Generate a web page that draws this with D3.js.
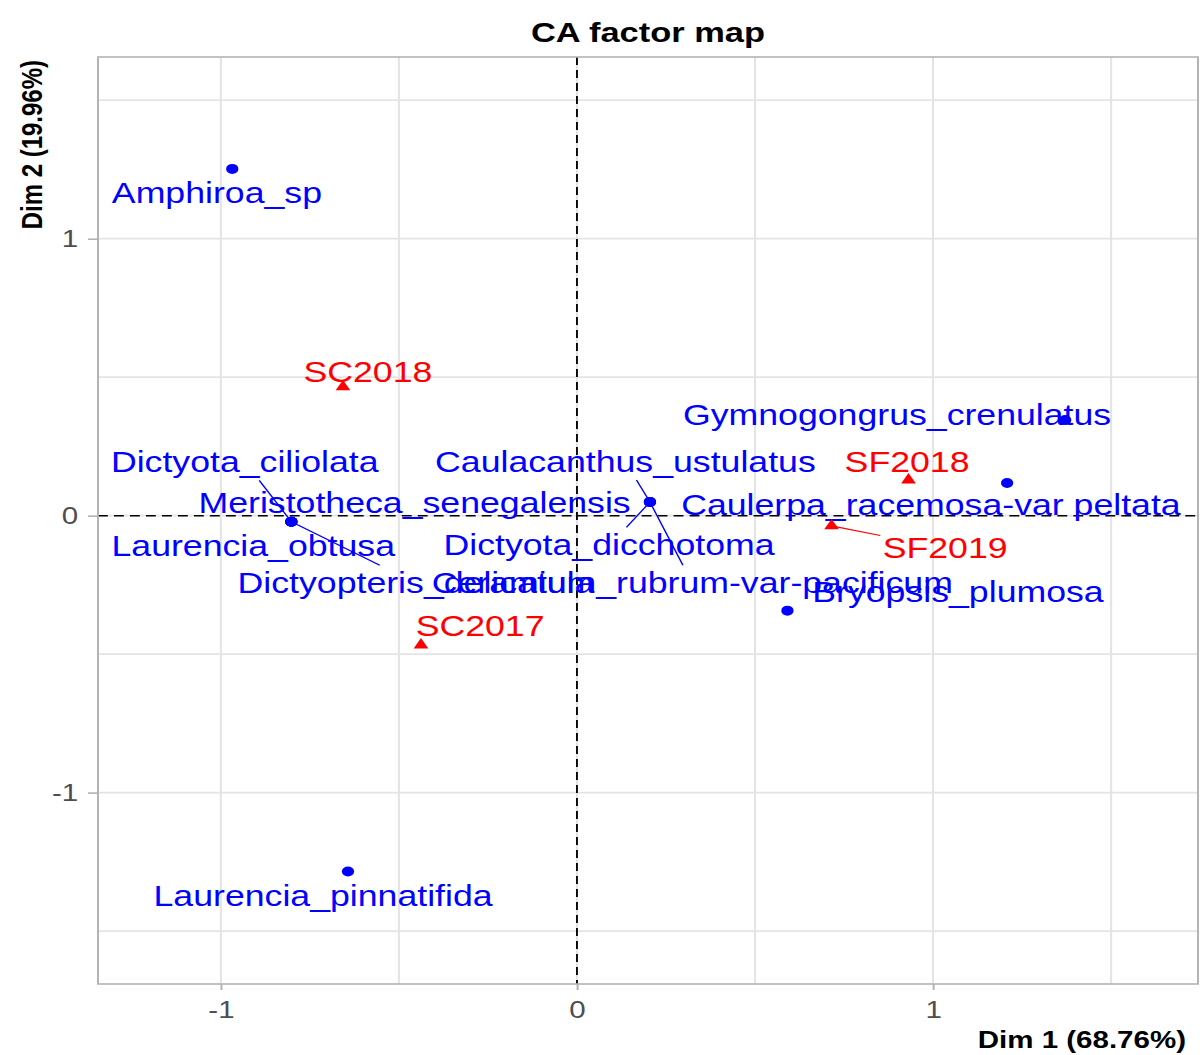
<!DOCTYPE html>
<html>
<head>
<meta charset="utf-8">
<script src="https://cdn.jsdelivr.net/npm/d3@7"></script>
<style>
  body { margin: 0; background: #fff; }
  svg { display: block; }
</style>
</head>
<body>
<div id="chart"></div>
<script>
// rows (species) of the CA
const rowNames = ["Amphiroa_sp", "Dictyota_ciliolata", "Meristotheca_senegalensis", "Laurencia_obtusa",
  "Dictyopteris_delicatula", "Caulacanthus_ustulatus", "Dictyota_dicchotoma", "Ceramium_rubrum-var-pacificum",
  "Gymnogongrus_crenulatus", "Caulerpa_racemosa-var peltata", "Bryopsis_plumosa", "Laurencia_pinnatifida"];
const rowDim1 = [-0.968, -0.802, -0.802, -0.802, -0.802, 0.205, 0.205, 0.205, 1.371, 1.208, 0.591, -0.643];
const rowDim2 = [1.252, -0.022, -0.022, -0.022, -0.022, 0.049, 0.049, 0.049, 0.345, 0.118, -0.343, -1.285];
// where the repelled labels ended up (dim units)
const rowLabDim1 = [-1.011, -0.933, -0.456, -0.909, -0.452, 0.136, 0.090, 0.324, 0.899, 0.994, 1.070, -0.713];
const rowLabDim2 = [1.166, 0.194, 0.045, -0.108, -0.243, 0.195, -0.106, -0.243, 0.364, 0.039, -0.274, -1.373];

// columns (sites / years)
const colNames = ["SC2017", "SC2018", "SF2018", "SF2019"];
const colDim1 = [-0.438, -0.657, 0.931, 0.715];
const colDim2 = [-0.467, 0.465, 0.129, -0.037];
const colLabDim1 = [-0.272, -0.587, 0.927, 1.034];
const colLabDim2 = [-0.398, 0.520, 0.195, -0.117];

const xTicks = [-1, 0, 1];
const yTicks = [-1, 0, 1];
const minorBreaks = [-1.5, -0.5, 0.5, 1.5];

const title = "CA factor map";
const xTitle = "Dim 1 (68.76%)";
const yTitle = "Dim 2 (19.96%)";

const width = 1200,
  height = 1055,
  stretch = 1.23,   // the picture is wider than tall, text included
  panel = {left: 98, right: 1198, top: 57, bottom: 984};

const font = '"Liberation Sans", Arial, sans-serif';

const x = d3.scaleLinear()
  .domain([-1.345, 1.744])
  .range([panel.left / stretch, panel.right / stretch]);
const y = d3.scaleLinear()
  .domain([-1.691, 1.656])
  .range([panel.bottom, panel.top]);

const svg = d3.select('#chart')
  .append('svg')
  .attr('width', width)
  .attr('height', height);

const g = svg.append('g')
  .attr('transform', `scale(${stretch},1)`);

const [x0, x1] = x.range();
const [y0, y1] = y.range();

// grid
const grid = g.append('g').attr('class', 'grid')
  .attr('stroke', '#e4e4e4')
  .attr('stroke-width', 1.7);
grid.selectAll('line.v')
  .data(xTicks.concat(minorBreaks.filter(d => d > x.domain()[0] && d < x.domain()[1])))
  .enter().append('line')
  .attr('class', 'v')
  .attr('x1', d => x(d)).attr('x2', d => x(d))
  .attr('y1', y1).attr('y2', y0);
grid.selectAll('line.h')
  .data(yTicks.concat(minorBreaks))
  .enter().append('line')
  .attr('class', 'h')
  .attr('x1', x0).attr('x2', x1)
  .attr('y1', d => y(d)).attr('y2', d => y(d));

// origin lines
g.append('line')
  .attr('x1', x(0)).attr('x2', x(0))
  .attr('y1', y1).attr('y2', y0)
  .attr('stroke', '#000').attr('stroke-width', 1.5)
  .attr('stroke-dasharray', '8,5');
g.append('line')
  .attr('x1', x0).attr('x2', x1)
  .attr('y1', y(0)).attr('y2', y(0))
  .attr('stroke', '#000').attr('stroke-width', 1.5)
  .attr('stroke-dasharray', '8,5');

// axes
const xAxis = g.append('g')
  .attr('transform', `translate(0,${y0})`)
  .call(d3.axisBottom(x).tickValues(xTicks).tickSize(6).tickPadding(11).tickFormat(d3.format('d')));
const yAxis = g.append('g')
  .attr('transform', `translate(${x0},0)`)
  .call(d3.axisLeft(y).tickValues(yTicks).tickSize(10 / stretch).tickPadding(8).tickFormat(d3.format('d')));
[xAxis, yAxis].forEach(a => {
  a.select('.domain').remove();
  a.selectAll('line').attr('stroke', '#b3b3b3').attr('stroke-width', 1.6);
  a.selectAll('text')
    .attr('fill', '#4d4d4d')
    .style('font-family', font)
    .style('font-size', '24px')
    .text(d => d < 0 ? '-' + Math.abs(d) : d);
});

// panel border
g.append('rect')
  .attr('x', x0).attr('y', y1)
  .attr('width', x1 - x0).attr('height', y0 - y1)
  .attr('fill', 'none')
  .attr('stroke', '#b3b3b3')
  .attr('stroke-width', 1.6);

// labels + segments (ggrepel style)
const rows = rowNames.map((n, i) => ({
  name: n, px: rowDim1[i], py: rowDim2[i], lx: rowLabDim1[i], ly: rowLabDim2[i], color: 'blue'
}));
const cols = colNames.map((n, i) => ({
  name: n, px: colDim1[i], py: colDim2[i], lx: colLabDim1[i], ly: colLabDim2[i], color: 'red'
}));
const all = rows.concat(cols);

const segG = g.append('g').attr('class', 'segments');
const labG = g.append('g').attr('class', 'labels');

labG.selectAll('text')
  .data(all)
  .enter().append('text')
  .attr('x', d => x(d.lx))
  .attr('y', d => y(d.ly))
  .attr('dy', '0.35em')
  .attr('text-anchor', 'middle')
  .attr('fill', d => d.color)
  .style('font-family', font)
  .style('font-size', '29px')
  .text(d => d.name)
  .each(function(d) {
    const b = this.getBBox(), pad = 2;
    const cx = b.x + b.width / 2, cy = b.y + b.height / 2;
    const hw = b.width / 2 + pad, hh = b.height / 2 + pad;
    const px = x(d.px), py = y(d.py);
    const dx = px - cx, dy = py - cy;
    if (Math.abs(dx) <= hw && Math.abs(dy) <= hh) return;
    const t = Math.min(dx ? hw / Math.abs(dx) : Infinity, dy ? hh / Math.abs(dy) : Infinity);
    const ex = cx + dx * t, ey = cy + dy * t;
    const len = Math.hypot((px - ex) * stretch, py - ey);
    if (len < 25) return;
    segG.append('line')
      .attr('x1', px).attr('y1', py)
      .attr('x2', ex).attr('y2', ey)
      .attr('stroke', d.color)
      .attr('stroke-width', 1.2);
  });

// points
g.append('g').selectAll('circle')
  .data(rows)
  .enter().append('circle')
  .attr('cx', d => x(d.px))
  .attr('cy', d => y(d.py))
  .attr('r', 5)
  .attr('fill', 'blue');

g.append('g').selectAll('path')
  .data(cols)
  .enter().append('path')
  .attr('d', d3.symbol().type(d3.symbolTriangle).size(62))
  .attr('transform', d => `translate(${x(d.px)},${y(d.py)})`)
  .attr('fill', 'red');

// titles
g.append('text')
  .attr('x', (panel.left + panel.right) / 2 / stretch)
  .attr('y', 42)
  .attr('text-anchor', 'middle')
  .style('font-family', font)
  .style('font-size', '28px')
  .style('font-weight', 'bold')
  .text(title);

g.append('text')
  .attr('x', 1186 / stretch)
  .attr('y', 1048)
  .attr('text-anchor', 'end')
  .style('font-family', font)
  .style('font-size', '24px')
  .style('font-weight', 'bold')
  .text(xTitle);

g.append('text')
  .attr('transform', `translate(${42 / stretch},60) rotate(-90)`)
  .attr('text-anchor', 'end')
  .style('font-family', font)
  .style('font-size', '24px')
  .style('font-weight', 'bold')
  .text(yTitle);
</script>
</body>
</html>
